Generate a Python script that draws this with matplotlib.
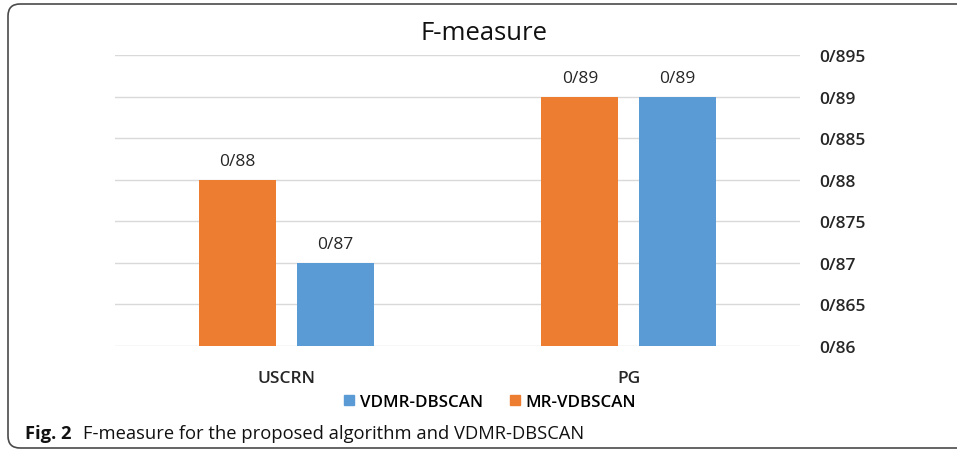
import matplotlib
matplotlib.use("Agg")
import matplotlib.pyplot as plt
from matplotlib.patches import FancyBboxPatch, Patch
from matplotlib.ticker import FuncFormatter
import numpy as np

# data
categories = ["USCRN", "PG"]
mr_vdbscan = [0.88, 0.89]     # orange
vdmr_dbscan = [0.87, 0.89]    # blue
y_ticks = [0.86, 0.865, 0.87, 0.875, 0.88, 0.885, 0.89, 0.895]

ORANGE = "#ED7D31"
BLUE = "#5B9BD5"
TXT = "#262626"

plt.rcParams["font.family"] = ["Open Sans", "DejaVu Sans"]


def fmt(v, pos=None):
    # decimal point shown as "/" in the original
    s = f"{v:.3f}".rstrip("0").rstrip(".")
    return s.replace(".", "/")


W, H = 957, 452
fig = plt.figure(figsize=(W / 100, H / 100), dpi=100)

# rounded frame around the whole figure (right edge runs off the image)
frame = FancyBboxPatch((0.08, 0.03), 10.0, 4.44,
                       boxstyle="round,pad=0,rounding_size=0.12",
                       transform=fig.dpi_scale_trans, fill=False,
                       edgecolor="#4a4a4a", lw=1.2)
fig.patches.append(frame)

ax = fig.add_axes([115 / W, 1 - 347 / H, 685 / W, (347 - 56) / H])

x = np.arange(len(categories))
bw = 0.225
off = bw / 2 + 0.03
b1 = ax.bar(x - off, mr_vdbscan, bw, color=ORANGE, zorder=3)
b2 = ax.bar(x + off, vdmr_dbscan, bw, color=BLUE, zorder=3)

for bars, vals in ((b1, mr_vdbscan), (b2, vdmr_dbscan)):
    for b, v in zip(bars, vals):
        ax.text(b.get_x() + b.get_width() / 2, v + 0.0013, fmt(v),
                ha="center", va="bottom", fontsize=12.5, color=TXT)

ax.set_xlim(-0.5, 1.5)
ax.set_ylim(0.86, 0.895)
ax.set_yticks(y_ticks)
ax.yaxis.set_major_formatter(FuncFormatter(fmt))
ax.yaxis.tick_right()
ax.tick_params(axis="y", length=0, pad=14, labelsize=12.5, labelcolor=TXT)
for lab in ax.get_yticklabels():
    lab.set_fontweight("semibold")
ax.set_xticks(x)
ax.set_xticklabels(categories, fontsize=12.5, fontweight="semibold", color=TXT)
ax.tick_params(axis="x", length=0, pad=17)
ax.grid(axis="y", color="#d9d9d9", lw=1, zorder=0)
for s in ax.spines.values():
    s.set_visible(False)

fig.text(484 / W, 1 - 33 / H, "F-measure", ha="center", va="center",
         fontsize=18.5, color="#111111")

handles = [Patch(color=BLUE, label="VDMR-DBSCAN"),
           Patch(color=ORANGE, label="MR-VDBSCAN")]
fig.legend(handles=handles, loc="center", bbox_to_anchor=(490 / W, 1 - 403 / H),
           ncol=2, frameon=False, handlelength=0.6,
           handleheight=0.6, handletextpad=0.3, columnspacing=1.6,
           prop={"weight": "semibold", "size": 12.2})

fig.text(25 / W, 1 - 434 / H, "Fig. 2", fontweight="bold", fontsize=13.2,
         va="center", ha="left", color="#111111")
fig.text(83 / W, 1 - 434 / H,
         "F-measure for the proposed algorithm and VDMR-DBSCAN",
         fontsize=13.2, va="center", ha="left", color="#111111")

fig.savefig("out.png", dpi=100)
